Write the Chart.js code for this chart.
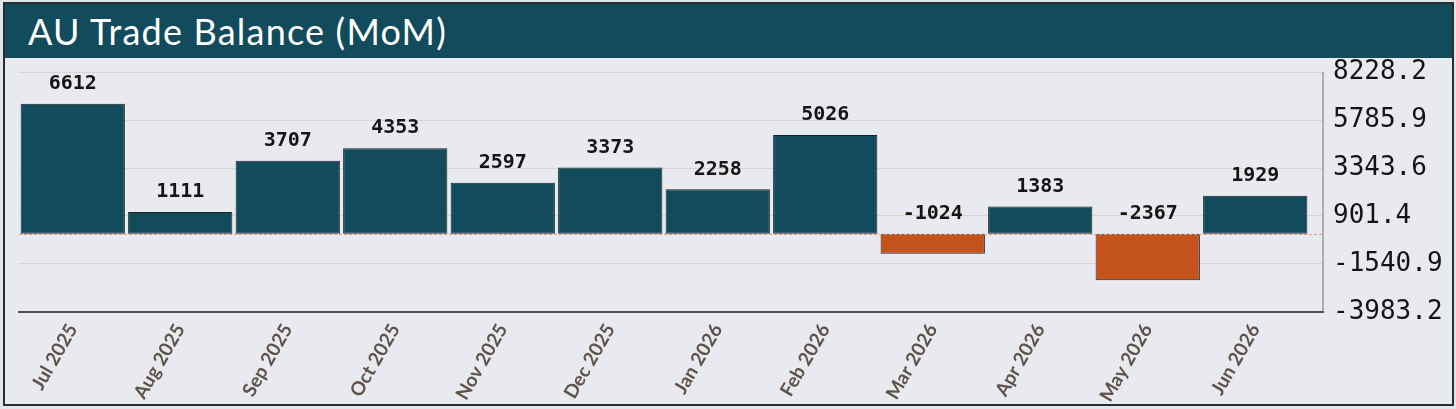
<!DOCTYPE html>
<html>
<head>
<meta charset="utf-8">
<script src="https://cdn.jsdelivr.net/npm/chart.js@4"></script>
<style>
  body { margin: 0; background: #e0e4eb; }
  #frame {
    position: absolute; left: 3px; top: 2px; width: 1451px; height: 404px;
    box-sizing: border-box; border: 2px solid #2a2d30; background: #e8eaef;
  }
  #title {
    position: absolute; left: 0; top: 0; width: 100%; height: 54px;
    background: #124b5c; color: #fff;
    font: 36px Lato, sans-serif; letter-spacing: 1.2px; line-height: 54px;
    padding-left: 23px; box-sizing: border-box;
  }
  #wrap { position: absolute; left: 0; top: 54px; width: 1447px; height: 346px; }
</style>
</head>
<body>
<div id="frame">
  <div id="title">AU Trade Balance (MoM)</div>
  <div id="wrap"><canvas id="c" width="1447" height="346"></canvas></div>
</div>
<script>
const months = ['Jul 2025', 'Aug 2025', 'Sep 2025', 'Oct 2025', 'Nov 2025', 'Dec 2025',
                'Jan 2026', 'Feb 2026', 'Mar 2026', 'Apr 2026', 'May 2026', 'Jun 2026'];
const balance = [6612, 1111, 3707, 4353, 2597, 3373, 2258, 5026, -1024, 1383, -2367, 1929];
const yTicks = [-3983.2, -1540.9, 901.4, 3343.6, 5785.9, 8228.2];

const POS = '#124b5c', NEG = '#c4521c';
const EXTRA = 14; // grid/box run past the last category

// frame lines, zero line and the value labels
const decor = {
  id: 'decor',
  afterDatasetsDraw(chart) {
    const { ctx, chartArea: a, scales: { y } } = chart;
    const right = a.right + EXTRA;
    ctx.save();
    // zero line
    const y0 = Math.round(y.getPixelForValue(0)) + 0.5;
    ctx.strokeStyle = '#e39a78';
    ctx.lineWidth = 1;
    ctx.setLineDash([3, 2]);
    ctx.beginPath(); ctx.moveTo(a.left, y0); ctx.lineTo(right, y0); ctx.stroke();
    ctx.setLineDash([]);
    // right border
    ctx.strokeStyle = '#9a9a9a';
    ctx.lineWidth = 1.5;
    ctx.beginPath(); ctx.moveTo(right, a.top); ctx.lineTo(right, a.bottom); ctx.stroke();
    // bottom axis
    ctx.strokeStyle = '#54504c';
    ctx.lineWidth = 2;
    ctx.beginPath(); ctx.moveTo(a.left - 1, a.bottom); ctx.lineTo(right + 1, a.bottom); ctx.stroke();
    // value labels
    ctx.fillStyle = '#151515';
    ctx.font = 'bold 20px "DejaVu Sans Mono", monospace';
    ctx.textAlign = 'center';
    ctx.textBaseline = 'middle';
    chart.getDatasetMeta(0).data.forEach((bar, i) => {
      const v = balance[i];
      ctx.fillText(String(v), bar.x, y.getPixelForValue(Math.max(v, 0)) - 20);
    });
    ctx.restore();
  }
};

new Chart(document.getElementById('c'), {
  type: 'bar',
  data: {
    labels: months,
    datasets: [{
      data: balance,
      backgroundColor: balance.map(v => v < 0 ? NEG : POS),
      borderColor: '#1c2326',
      borderWidth: 1,
      borderSkipped: false,
      barPercentage: 0.97,
      categoryPercentage: 1
    }]
  },
  options: {
    responsive: false,
    animation: false,
    layout: { padding: { left: 14, top: 14, right: 0, bottom: 0 } },
    plugins: { legend: { display: false }, tooltip: { enabled: false } },
    scales: {
      x: {
        grid: { display: false, drawTicks: false },
        border: { display: false },
        ticks: {
          minRotation: 60, maxRotation: 60, padding: 8,
          color: '#5e5249',
          font: { family: 'Lato', size: 19, weight: 'bold' }
        },
        afterFit: s => { s.height = 92; s.paddingLeft = 0; s.paddingRight = 0; }
      },
      y: {
        position: 'right',
        min: yTicks[0],
        max: yTicks[yTicks.length - 1],
        afterBuildTicks: s => { s.ticks = yTicks.map(v => ({ value: v })); },
        grid: { color: '#ddd4cf', lineWidth: 1, tickLength: EXTRA, drawTicks: true },
        border: { display: false },
        ticks: {
          padding: 10,
          color: '#141414',
          font: { family: 'DejaVu Sans Mono', size: 26 },
          callback: v => v.toFixed(1)
        },
        afterFit: s => { s.width = 143; s.paddingTop = 0; s.paddingBottom = 0; }
      }
    }
  },
  plugins: [decor]
});
</script>
</body>
</html>
